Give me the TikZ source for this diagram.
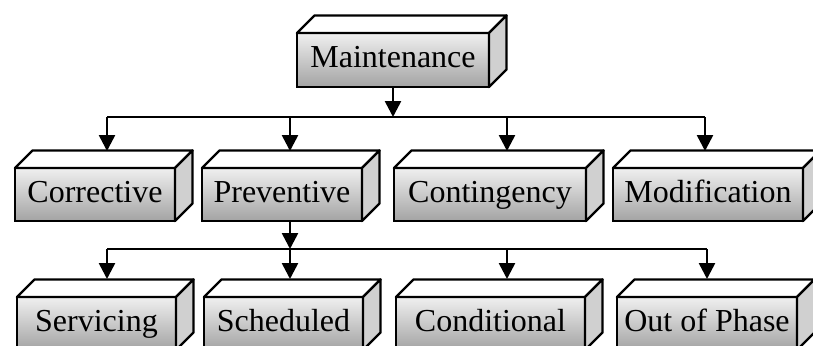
\documentclass[tikz,border=0pt]{standalone}
\usepackage{fontspec}
\setmainfont{Liberation Serif}
\usetikzlibrary{arrows.meta}

\newcommand{\dep}{17.5pt}
% top and side faces of a box
\newcommand{\boxfaces}[1]{%
  \draw[topface] (#1.north west) -- ++(\dep,\dep) -- ([shift={(\dep,\dep)}]#1.north east) -- (#1.north east) -- cycle;
  \draw[sideface] (#1.north east) -- ++(\dep,\dep) -- ([shift={(\dep,\dep)}]#1.south east) -- (#1.south east) -- cycle;
}

\tikzset{
  block/.style={draw=black, line width=2.4pt, outer sep=0pt, inner sep=0pt,
    top color=gray!12, bottom color=gray!72, minimum height=53pt,
    text height=23pt, text depth=8pt, font=\fontsize{32pt}{32pt}\selectfont},
  topface/.style={draw=black, line width=2.4pt, line join=round, fill=white},
  sideface/.style={draw=black, line width=2.4pt, line join=round, fill=gray!37},
  wire/.style={draw=black, line width=2.6pt},
  link/.style={wire, -{Triangle[width=16pt,length=16pt]}},
}

\begin{document}
\begin{tikzpicture}[x=1pt, y=-1pt]
  \useasboundingbox (0,0) rectangle (813,345);
  \clip (0,0) rectangle (813,345);

  \node[block, minimum width=192pt, minimum height=54pt] (maint) at (393,60) {Maintenance};

  \node[block, minimum width=160pt] (corr) at (95,194.5) {Corrective};
  \node[block, minimum width=160pt] (prev) at (282,194.5) {Preventive};
  \node[block, minimum width=192pt] (cont) at (490,194.5) {Contingency};
  \node[block, minimum width=190pt] (modi) at (708,194.5) {Modification};

  \node[block, minimum width=159pt] (serv) at (96.5,323.5) {Servicing};
  \node[block, minimum width=159pt] (sched) at (283.5,323.5) {Scheduled};
  \node[block, minimum width=189pt] (cond) at (490.5,323.5) {Conditional};
  \node[block, minimum width=180pt] (oop) at (707,323.5) {Out of Phase};

  \foreach \n in {maint,corr,prev,cont,modi,serv,sched,cond,oop}{
    \boxfaces{\n}
  }

  % where the arrows land
  \coordinate (corr-in) at (107,151);
  \coordinate (prev-in) at (290,151);
  \coordinate (cont-in) at (507,151);
  \coordinate (modi-in) at (705,151);
  \coordinate (serv-in) at (107,279);
  \coordinate (sched-in) at (290,279);
  \coordinate (cond-in) at (507,279);
  \coordinate (oop-in) at (707,279);

  % first level
  \coordinate (busA) at (393,117);
  \draw[link] (maint.south) -- (busA);
  \draw[wire] (corr-in |- busA) -- (modi-in |- busA);
  \foreach \n in {corr,prev,cont,modi}
    \draw[link] (\n-in |- busA) -- (\n-in);

  % second level
  \coordinate (busB) at (290,249);
  \draw[link] (busB |- prev.south) -- (busB);
  \draw[wire] (serv-in |- busB) -- (oop-in |- busB);
  \foreach \n in {serv,sched,cond,oop}
    \draw[link] (\n-in |- busB) -- (\n-in);
\end{tikzpicture}
\end{document}
